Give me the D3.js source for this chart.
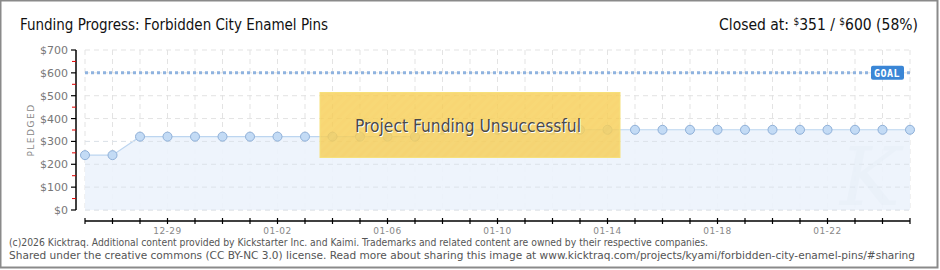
<!DOCTYPE html>
<html><head><meta charset="utf-8">
<script src="https://cdn.jsdelivr.net/npm/d3@7"></script>
<style>body{margin:0;background:#fff;}svg{display:block;}</style>
</head><body>
<svg id="chart" width="940" height="270"></svg>
<script>
const days = ["12-26","12-27","12-28","12-29","12-30","12-31","01-01","01-02","01-03","01-04","01-05","01-06","01-07","01-08","01-09","01-10","01-11","01-12","01-13","01-14","01-15","01-16","01-17","01-18","01-19","01-20","01-21","01-22","01-23","01-24","01-25"];
const pledged = [240,240,321,321,321,321,321,321,321,321,321,321,321,351,351,351,351,351,351,351,351,351,351,351,351,351,351,351,351,351,351];
const tickLabels = ["12-29","01-02","01-06","01-10","01-14","01-18","01-22"];
const yTicks = [0,100,200,300,400,500,600,700];
const goal = 600;
const title = "Funding Progress: Forbidden City Enamel Pins";
const footer = ["(c)2026 Kicktraq. Additional content provided by Kickstarter Inc. and Kaimi. Trademarks and related content are owned by their respective companies.",
"Shared under the creative commons (CC BY-NC 3.0) license. Read more about sharing this image at www.kicktraq.com/projects/kyami/forbidden-city-enamel-pins/#sharing"];
const footerWidths = [699, 906];

const svg = d3.select("#chart");
const W = 940, H = 270;
svg.append("rect").attr("x",0.5).attr("y",0.5).attr("width",W-3).attr("height",H-3)
  .attr("fill","#fff").attr("stroke","#8a8a8a").attr("stroke-width",2);

const x = d3.scalePoint().domain(days).range([85,910]);
const y = d3.scaleLinear().domain([0,700]).range([210,50]);

const defs = svg.append("defs");
const pat = defs.append("pattern").attr("id","stripes").attr("patternUnits","userSpaceOnUse")
  .attr("width",6).attr("height",6).attr("patternTransform","rotate(45)");
pat.append("rect").attr("width",6).attr("height",6).attr("fill","rgba(247,205,85,0.82)");
pat.append("rect").attr("width",3).attr("height",6).attr("fill","rgba(255,230,140,0.12)");

// grid
const g = svg.append("g");
g.selectAll(".vg").data(days).join("line")
  .attr("x1",d=>x(d)).attr("x2",d=>x(d)).attr("y1",50).attr("y2",210)
  .attr("stroke","#e3e3e3").attr("stroke-dasharray","5,4");
g.selectAll(".hg").data(yTicks).join("line")
  .attr("x1",85).attr("x2",910).attr("y1",d=>y(d)).attr("y2",d=>y(d))
  .attr("stroke","#e3e3e3").attr("stroke-dasharray","5,4");

// area
const area = d3.area().x((d,i)=>x(days[i])).y0(y(0)).y1(d=>y(d));
svg.append("path").datum(pledged).attr("d",area).attr("fill","#ecf3fc").attr("opacity",0.9);
const line = d3.line().x((d,i)=>x(days[i])).y(d=>y(d));
svg.append("path").datum(pledged).attr("d",line).attr("fill","none").attr("stroke","#bcd5f0").attr("stroke-width",1.2);

// grid lines over area (faint)
svg.append("g").selectAll("line").data(yTicks.slice(0,4)).join("line")
  .attr("x1",85).attr("x2",910).attr("y1",d=>y(d)).attr("y2",d=>y(d))
  .attr("stroke","#dde3ea").attr("stroke-dasharray","5,4");

// watermark
svg.append("text").attr("x",870).attr("y",205).attr("text-anchor","middle")
  .attr("font-family","DejaVu Serif").attr("font-style","italic").attr("font-size",80)
  .attr("fill","#e4ecf6").attr("opacity",0.35).text("K");

// goal line
svg.append("line").attr("x1",85).attr("x2",910).attr("y1",y(goal)).attr("y2",y(goal))
  .attr("stroke","#8fb3df").attr("stroke-width",3).attr("stroke-dasharray","3,3");

// points
svg.append("g").selectAll("circle").data(pledged).join("circle")
  .attr("cx",(d,i)=>x(days[i])).attr("cy",d=>y(d)).attr("r",4.5)
  .attr("fill","#c3dbf5").attr("stroke","#8fb0d8").attr("stroke-width",1);

// goal label
const gl = svg.append("g");
gl.append("rect").attr("x",871).attr("y",y(goal)-7).attr("width",33).attr("height",14).attr("rx",2)
  .attr("fill","#3a86d6");
gl.append("text").attr("x",887).attr("y",y(goal)+4).attr("text-anchor","middle")
  .attr("font-family","DejaVu Sans Mono").attr("font-size",10).attr("font-weight","bold")
  .attr("fill","#fff").attr("letter-spacing",0.5).text("GOAL");

// y axis
const ya = svg.append("g").attr("transform","translate(76,0)");
ya.append("line").attr("y1",50).attr("y2",210).attr("stroke","#000").attr("stroke-width",1.5);
ya.selectAll(".mt").data(d3.range(50,700,100)).join("line")
  .attr("x1",-4).attr("x2",0).attr("y1",d=>y(d)).attr("y2",d=>y(d)).attr("stroke","#e00000");
ya.selectAll(".Mt").data(yTicks).join("line")
  .attr("x1",-5).attr("x2",0).attr("y1",d=>y(d)).attr("y2",d=>y(d)).attr("stroke","#000").attr("stroke-width",1.2);
ya.selectAll("text").data(yTicks).join("text")
  .attr("x",-8).attr("y",d=>y(d)+4).attr("text-anchor","end")
  .attr("font-family","DejaVu Sans").attr("font-size",11).attr("fill","#777")
  .text(d=>"$"+d);
svg.append("text").attr("transform","translate(34,130) rotate(-90)").attr("text-anchor","middle")
  .attr("font-family","DejaVu Sans").attr("font-size",9).attr("fill","#888").attr("letter-spacing",1.5)
  .text("PLEDGED");

// x axis
const xa = svg.append("g").attr("transform","translate(0,221)");
xa.append("line").attr("x1",85).attr("x2",910).attr("stroke","#000").attr("stroke-width",1.5);
xa.selectAll("line.t").data(days).join("line").attr("class","t")
  .attr("x1",d=>x(d)).attr("x2",d=>x(d)).attr("y1",-3).attr("y2",3).attr("stroke","#000").attr("stroke-width",1.2);
xa.selectAll("text").data(tickLabels).join("text")
  .attr("x",d=>x(d)).attr("y",13).attr("text-anchor","middle")
  .attr("font-family","DejaVu Sans").attr("font-size",9).attr("fill","#888").attr("letter-spacing",0.5)
  .text(d=>d);

// unsuccessful box
const bx = svg.append("g");
bx.append("rect").attr("x",320).attr("y",92.5).attr("width",300).attr("height",65)
  .attr("fill","url(#stripes)").attr("stroke","#f6e07a").attr("stroke-width",1);
bx.append("text").attr("x",469).attr("y",133).attr("text-anchor","middle")
  .attr("font-family","DejaVu Sans Condensed").attr("font-size",17).attr("fill","#fff")
  .attr("textLength",226).attr("lengthAdjust","spacingAndGlyphs").text("Project Funding Unsuccessful");
bx.append("text").attr("x",468).attr("y",132).attr("text-anchor","middle")
  .attr("font-family","DejaVu Sans Condensed").attr("font-size",17).attr("fill","#4a4a4a")
  .attr("textLength",226).attr("lengthAdjust","spacingAndGlyphs").text("Project Funding Unsuccessful");

// titles
svg.append("text").attr("x",20).attr("y",30).attr("font-family","DejaVu Sans Condensed")
  .attr("font-size",16).attr("fill","#111").attr("textLength",308).attr("lengthAdjust","spacingAndGlyphs").text(title);
const rt = svg.append("text").attr("x",918).attr("y",30).attr("text-anchor","end")
  .attr("font-family","DejaVu Sans Condensed").attr("font-size",15.5).attr("fill","#111");
rt.append("tspan").text("Closed at:  ");
rt.append("tspan").attr("font-size",10).attr("dy",-5).text("$");
rt.append("tspan").attr("dy",5).text("351 /  ");
rt.append("tspan").attr("font-size",10).attr("dy",-5).text("$");
rt.append("tspan").attr("dy",5).text("600 (58%)");

// footer
svg.append("g").selectAll("text").data(footer).join("text")
  .attr("x",9).attr("y",(d,i)=>246+i*12.5)
  .attr("font-family","DejaVu Sans Condensed").attr("font-size",10).attr("fill","#555")
  .attr("textLength",(d,i)=>footerWidths[i]).attr("lengthAdjust","spacingAndGlyphs")
  .text(d=>d);
</script>
</body></html>
